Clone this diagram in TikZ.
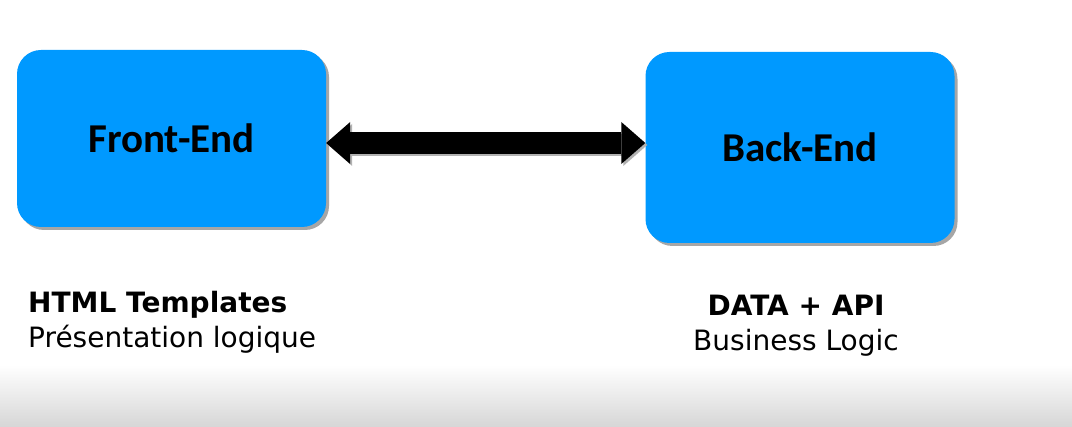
\documentclass[tikz,border=0pt]{standalone}
\usepackage{fontspec}
\setmainfont{DejaVu Sans}
\newfontfamily\boxfont{Carlito}
\usetikzlibrary{arrows.meta}
\usetikzlibrary{positioning}
\usetikzlibrary{shadows}
\definecolor{boxblue}{RGB}{0,153,255}

\begin{document}
\begin{tikzpicture}[x=1pt,y=-1pt,%
    block/.style={rectangle,rounded corners=24pt,fill=boxblue,
      minimum width=309pt,inner sep=0pt,
      drop shadow={shadow xshift=3pt,shadow yshift=-3pt,fill=black!35,opacity=1},
      font=\boxfont\bfseries\fontsize{41}{41}\selectfont},
    bigarrow/.style={line width=22pt,
      {Triangle[width=42pt,length=24pt,line width=0pt]}-{Triangle[width=42pt,length=24pt,line width=0pt]}},
    captitle/.style={inner sep=0pt,font=\bfseries\fontsize{28}{35}\selectfont},
    capsub/.style={inner sep=0pt,font=\fontsize{28}{35}\selectfont}]
  \useasboundingbox[fill=white] (0,0) rectangle (1072,427);
  \shade[top color=white,bottom color=black!16] (0,365) rectangle (1072,427);

  \node[block,minimum height=177pt] (fe) at (171.5,138.5) {Front-End};
  \node[block,minimum height=191pt] (be) at (800,147.5) {Back-End};

  % double arrow between the boxes
  \coordinate (mid) at (487,143);
  \path (fe.east |- mid) coordinate (a0) (be.west |- mid) coordinate (a1);
  \draw[bigarrow,black!30] ([shift={(2,2)}]a0) -- ([shift={(2,2)}]a1);
  \draw[bigarrow] (a0) -- (a1);

  % captions
  \node[captitle,anchor=base west] (fetitle) at (28,313) {HTML Templates};
  \node[capsub,anchor=base west] (fesub) at (28,348) {Présentation logique};
  \node[captitle,anchor=base] (betitle) at (796,316) {DATA + API};
  \node[capsub,anchor=base] (besub) at (796,351) {Business Logic};
\end{tikzpicture}
\end{document}
